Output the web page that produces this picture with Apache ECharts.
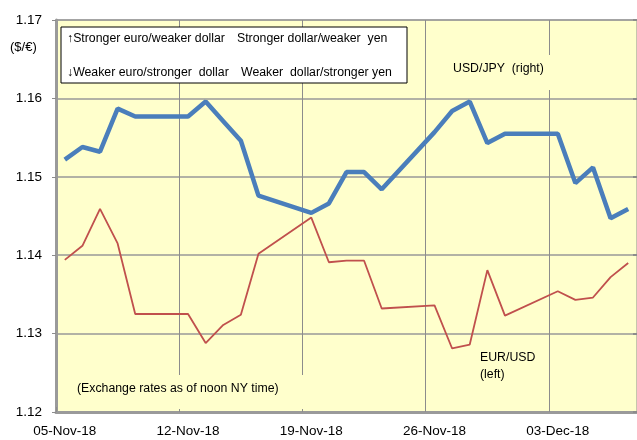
<!DOCTYPE html>
<html>
<head>
<meta charset="utf-8">
<script src="https://cdn.jsdelivr.net/npm/echarts@6/dist/echarts.min.js"></script>
<style>
html,body{margin:0;padding:0;background:#fff;}
#chart{width:637px;height:440px;}
</style>
</head>
<body>
<div id="chart"></div>
<script>
var categories = [
  '05-Nov-18','06-Nov-18','07-Nov-18','08-Nov-18','09-Nov-18','10-Nov-18','11-Nov-18',
  '12-Nov-18','13-Nov-18','14-Nov-18','15-Nov-18','16-Nov-18','17-Nov-18','18-Nov-18',
  '19-Nov-18','20-Nov-18','21-Nov-18','22-Nov-18','23-Nov-18','24-Nov-18','25-Nov-18',
  '26-Nov-18','27-Nov-18','28-Nov-18','29-Nov-18','30-Nov-18','01-Dec-18','02-Dec-18',
  '03-Dec-18','04-Dec-18','05-Dec-18','06-Dec-18','07-Dec-18'
];
var eurUsd = [
  1.1394, 1.1412, 1.1459, 1.1415, 1.1325, null, null,
  1.1325, 1.1288, 1.1311, 1.1324, 1.1402, null, null,
  1.1448, 1.1391, 1.1393, 1.1393, 1.1332, null, null,
  1.1336, 1.1281, 1.1286, 1.1381, 1.1323, null, null,
  1.1354, 1.1343, 1.1346, 1.1372, 1.1390
];
var usdJpy = [
  113.22, 113.38, 113.32, 113.87, 113.77, null, null,
  113.77, 113.96, 113.71, 113.46, 112.76, null, null,
  112.54, 112.66, 113.06, 113.06, 112.84, null, null,
  113.57, 113.84, 113.96, 113.43, 113.55, null, null,
  113.55, 112.92, 113.12, 112.47, 112.59
];
var leftTicks = {min: 1.12, max: 1.17, interval: 0.01};
var rightTicks = {min: 110, max: 115, interval: 1};

var FONT = 'Liberation Sans, Arial, sans-serif';
var chart = echarts.init(document.getElementById('chart'), null, {renderer: 'canvas'});
var weekly = function (i) { return i % 7 === 0; };

chart.setOption({
  animation: false,
  backgroundColor: '#ffffff',
  grid: {left: 56, right: -3, top: 20, bottom: 28, show: true,
         backgroundColor: '#FFFFCC', borderColor: '#8c8c8c', borderWidth: 1},
  xAxis: {
    type: 'category', data: categories, boundaryGap: true,
    axisLine: {lineStyle: {color: '#9a9a9a', width: 3}},
    axisTick: {show: true, inside: true, length: 5, interval: weekly, lineStyle: {color: '#8c8c8c'}},
    axisLabel: {interval: weekly, margin: 12, color: '#000', fontSize: 13.5, fontFamily: FONT},
    splitLine: {show: true, interval: weekly, lineStyle: {color: '#8c8c8c', width: 1}}
  },
  yAxis: [{
    type: 'value', min: leftTicks.min, max: leftTicks.max, interval: leftTicks.interval,
    axisLine: {show: true, lineStyle: {color: '#9a9a9a', width: 3}},
    axisTick: {show: true, length: 4, lineStyle: {color: '#8c8c8c'}},
    axisLabel: {margin: 14, color: '#000', fontSize: 13.5, fontFamily: FONT,
                formatter: function (v) { return v.toFixed(2); }},
    splitLine: {show: true, lineStyle: {color: '#999999', width: 1.5}}
  }, {
    type: 'value', min: rightTicks.min, max: rightTicks.max, interval: rightTicks.interval,
    position: 'right',
    axisLine: {show: false},
    axisTick: {show: true, inside: true, length: 4, lineStyle: {color: '#8c8c8c', width: 2}},
    axisLabel: {show: false},
    splitLine: {show: false}
  }],
  series: [{
    name: 'EUR/USD', type: 'line', yAxisIndex: 0, data: eurUsd,
    connectNulls: true, showSymbol: false, symbol: 'none',
    lineStyle: {color: '#C0504D', width: 1.8}, z: 3
  }, {
    name: 'USD/JPY', type: 'line', yAxisIndex: 1, data: usdJpy,
    connectNulls: true, showSymbol: false, symbol: 'none',
    lineStyle: {color: '#4A7EBB', width: 4.5}, z: 4
  }],
  graphic: [
    {type: 'text', left: 10, top: 41, z: 10,
     style: {text: '($/€)', fontSize: 13, fontFamily: FONT, fill: '#000'}},
    {type: 'rect', shape: {x: 61, y: 27, width: 346, height: 56}, z: 20,
     style: {fill: '#ffffff', stroke: '#000000', lineWidth: 1}},
    {type: 'text', x: 67, y: 33, z: 21,
     style: {text: '↑Stronger euro/weaker dollar', fontSize: 12.3, fontFamily: FONT, fill: '#000'}},
    {type: 'text', x: 237, y: 33, z: 21,
     style: {text: 'Stronger dollar/weaker  yen', fontSize: 12.3, fontFamily: FONT, fill: '#000'}},
    {type: 'text', x: 67, y: 67, z: 21,
     style: {text: '↓Weaker euro/stronger  dollar', fontSize: 12.3, fontFamily: FONT, fill: '#000'}},
    {type: 'text', x: 241, y: 67, z: 21,
     style: {text: 'Weaker  dollar/stronger yen', fontSize: 12.3, fontFamily: FONT, fill: '#000'}},
    {type: 'rect', shape: {x: 445, y: 55, width: 111, height: 35}, z: 1,
     style: {fill: '#FFFFCC'}},
    {type: 'text', x: 453, y: 63, z: 21,
     style: {text: 'USD/JPY  (right)', fontSize: 12.3, fontFamily: FONT, fill: '#000'}},
    {type: 'rect', shape: {x: 64, y: 375, width: 246, height: 34}, z: 1,
     style: {fill: '#FFFFCC'}},
    {type: 'text', x: 77, y: 383, z: 21,
     style: {text: '(Exchange rates as of noon NY time)', fontSize: 12.3, fontFamily: FONT, fill: '#000'}},
    {type: 'text', x: 480, y: 349, z: 21,
     style: {text: 'EUR/USD\n(left)', fontSize: 12.3, lineHeight: 17, fontFamily: FONT, fill: '#000'}}
  ]
});
</script>
</body>
</html>
